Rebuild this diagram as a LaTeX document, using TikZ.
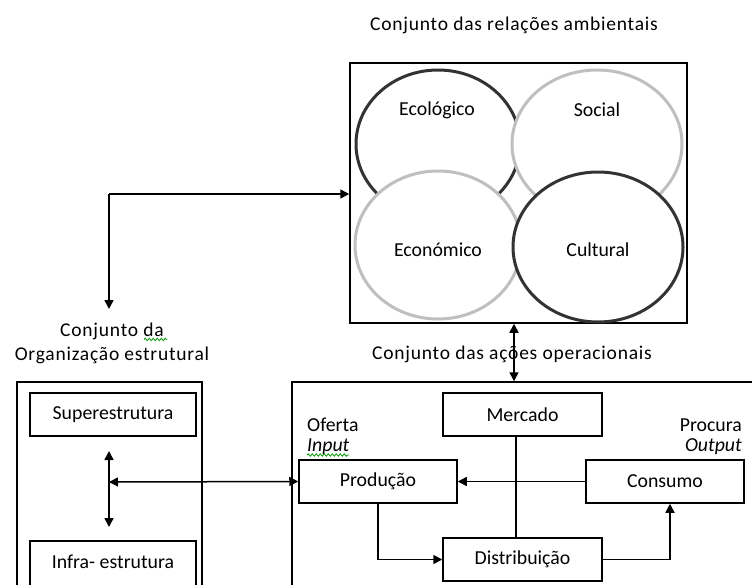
\documentclass[tikz,border=0pt]{standalone}
\usepackage{fontspec}
\setmainfont{Carlito}
\newfontfamily\titlefont[LetterSpace=4]{Carlito}
\usetikzlibrary{arrows.meta,shapes.geometric,decorations.pathmorphing}

\tikzset{
  every node/.style={font=\fontsize{19.8}{23}\selectfont, inner sep=0pt},
  box/.style={draw, line width=1.5pt, rectangle, minimum width=#1, minimum height=43pt},
  frame/.style={draw, line width=1.5pt, rectangle},
  ring/.style={ellipse, draw, line width=3pt, fill=white},
  darkring/.style={ring, draw=black!80},
  lightring/.style={ring, draw=black!25},
  title/.style={font=\titlefont\fontsize{19.5}{24}\selectfont},
  conn/.style={line width=1.5pt},
  arr/.style={conn, -{Triangle[length=9pt,width=9pt]}},
  arrboth/.style={conn, {Triangle[length=9pt,width=9pt]}-{Triangle[length=9pt,width=9pt]}},
  squiggle/.style={draw=green!60!black, line width=0.8pt,
    decorate, decoration={snake, amplitude=1.2pt, segment length=4pt}}
}

\begin{document}
\begin{tikzpicture}[x=1pt, y=-1pt]
\useasboundingbox (0,0) rectangle (752,584);
\clip (0,0) rectangle (752,584);

% environmental relations: four overlapping rings in a frame
\node[title] (ambtitle) at (514,25) {Conjunto das relações ambientais};
\node[frame, minimum width=337pt, minimum height=260pt] (amb) at (518.5,193) {};
\node[darkring,  minimum width=164pt, minimum height=148pt] (eco) at (438,144) {};
\node[lightring, minimum width=170pt, minimum height=148pt] (soc) at (597,144) {};
\node[lightring, minimum width=166pt, minimum height=148pt] (econ) at (438,245) {};
\node[darkring,  minimum width=170pt, minimum height=150pt] (cult) at (598,247) {};
\node (ecot)  at (437,110) {Ecológico};
\node (soct)  at (597,110) {Social};
\node (econt) at (438,250) {Económico};
\node (cultt) at (598,250) {Cultural};

% structural organisation
\node[title, align=center] (orgtitle) at (112,343) {Conjunto \smash{da}\\Organização estrutural};
\draw[squiggle] (144,339.5) -- (167,339.5);
\node[frame, minimum width=185pt, minimum height=230pt] (org) at (109.5,497) {};
\node[box=166pt] (sup)   at (113,414.5) {Superestrutura};
\node[box=166pt, minimum height=48pt] (infra) at (113,565) {};
\node (infrat) at (113,562) {Infra- estrutura};

% operational actions
\node[title] (opstitle) at (512,354) {Conjunto das ações operacionais};
\node[frame, minimum width=508pt, minimum height=268pt] (ops) at (546,516) {};
\node[box=159pt] (merc) at (522.5,414.5) {Mercado};
\node[box=158pt] (prod) at (378,481.5) {Produção};
\node[box=158pt] (cons) at (665,481.5) {Consumo};
\node[box=159pt] (dist) at (522.5,559.5) {Distribuição};
\node[anchor=west] (oferta) at (307,425) {Oferta};
\node[anchor=west] (input) at (307,447) {\itshape Input};
\draw[squiggle] (307,455) -- (349,455);
\node[anchor=east] (procura) at (742,425) {Procura};
\node[anchor=east] (output) at (742,447) {\itshape Output};

% connectors
\coordinate (corner) at (109,194);
\coordinate (orgtip) at (109,309);
\draw[arr] (corner) -- (orgtip);
\draw[arr] (corner) -- (corner -| amb.west);

\coordinate (link) at (514,0);
\draw[arrboth] (amb.south -| link) -- (ops.north -| link);

\coordinate (vtop) at (109,451);
\coordinate (vbot) at (109,527);
\coordinate (hub)  at (109,482);
\draw[arrboth] (vtop) -- (vbot);
\draw[arrboth] (hub) -- (prod.west);

\coordinate (axis) at (516,0);
\draw[conn] (merc.south -| axis) -- (dist.north -| axis);
\draw[arr] (cons.west) -- (prod.east);
\draw[arr] (prod.south) |- (dist.west);
\draw[arr] (dist.east) -| ([xshift=5pt]cons.south);
\end{tikzpicture}
\end{document}
